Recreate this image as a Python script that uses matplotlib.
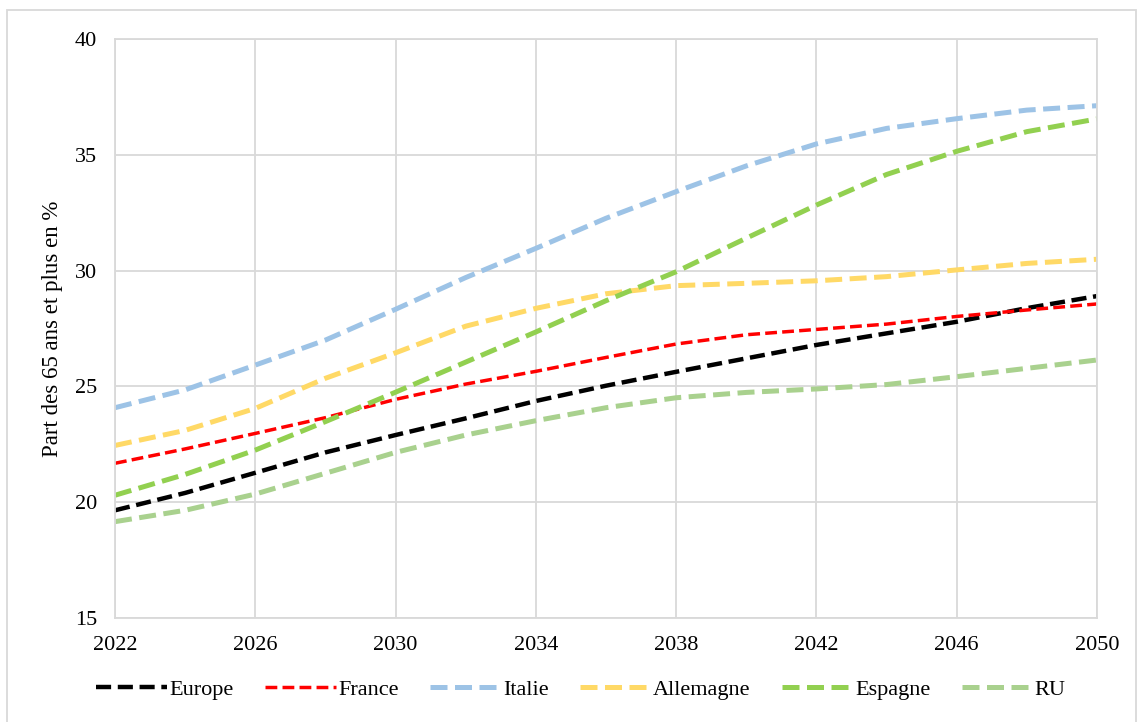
import matplotlib.pyplot as plt
from matplotlib.patches import Rectangle

plt.rcParams['font.family'] = ['Liberation Serif', 'DejaVu Serif']

years = [2022, 2024, 2026, 2028, 2030, 2032, 2034, 2036, 2038, 2040, 2042, 2044, 2046, 2048, 2050]

europe = [19.65, 20.4, 21.27, 22.15, 22.9, 23.62, 24.37, 25.03, 25.63, 26.21, 26.79, 27.29, 27.79, 28.38, 28.9]
france = [21.68, 22.3, 22.97, 23.65, 24.44, 25.1, 25.65, 26.25, 26.83, 27.23, 27.46, 27.69, 28.02, 28.3, 28.56]
italie = [24.08, 24.85, 25.92, 27.0, 28.33, 29.7, 30.96, 32.26, 33.41, 34.52, 35.47, 36.14, 36.56, 36.93, 37.12]
allemagne = [22.45, 23.1, 24.05, 25.35, 26.45, 27.6, 28.37, 29.0, 29.35, 29.45, 29.56, 29.74, 30.03, 30.31, 30.49]
espagne = [20.3, 21.2, 22.25, 23.48, 24.75, 26.05, 27.35, 28.7, 29.95, 31.4, 32.83, 34.15, 35.15, 36.0, 36.55]
ru = [19.16, 19.65, 20.35, 21.25, 22.15, 22.9, 23.52, 24.08, 24.51, 24.74, 24.89, 25.08, 25.42, 25.78, 26.14]

series = [
    ("Europe", europe, "#000000", 3.2),
    ("France", france, "#FF0000", 2.5),
    ("Italie", italie, "#9DC3E6", 3.6),
    ("Allemagne", allemagne, "#FFD966", 3.6),
    ("Espagne", espagne, "#92D050", 3.6),
    ("RU", ru, "#A9D18E", 3.6),
]

fig = plt.figure(figsize=(11.4, 7.22), dpi=100)
ax = fig.add_axes([115/1140, 1 - 618/722, (1097 - 115)/1140, (618 - 39)/722])

for name, vals, col, lw in series:
    ax.plot(years, vals, color=col, linewidth=lw, linestyle=(0, (3.4, 1.5)),
            dash_capstyle='butt', label=name)

ax.set_xlim(2022, 2050)
ax.set_ylim(15, 40)
ax.set_xticks(range(2022, 2051, 4))
ax.set_yticks(range(15, 41, 5))
ax.grid(True, color='#d9d9d9', linewidth=1.3)
ax.set_axisbelow(True)
for s in ax.spines.values():
    s.set_color('#d9d9d9')
    s.set_linewidth(1.3)
ax.tick_params(length=0, labelsize=16, colors='black')
ax.tick_params(axis='x', pad=13)
ax.tick_params(axis='y', pad=13)
ax.set_ylabel("Part des 65 ans et plus en %", fontsize=16.5)
ax.yaxis.set_label_coords(-0.053, 0.5)

fig.legend(loc='center', bbox_to_anchor=(581/1140, 1 - 690/722), ncol=6, frameon=False,
           fontsize=16, handlelength=3.2, columnspacing=1.4, handletextpad=0.1)

fig.patches.append(Rectangle((7/1140, -0.02), 1129/1140, 1 - 10/722 + 0.02,
                             transform=fig.transFigure, fill=False,
                             edgecolor='#d9d9d9', linewidth=1.3))

plt.savefig("out.png", dpi=100)
